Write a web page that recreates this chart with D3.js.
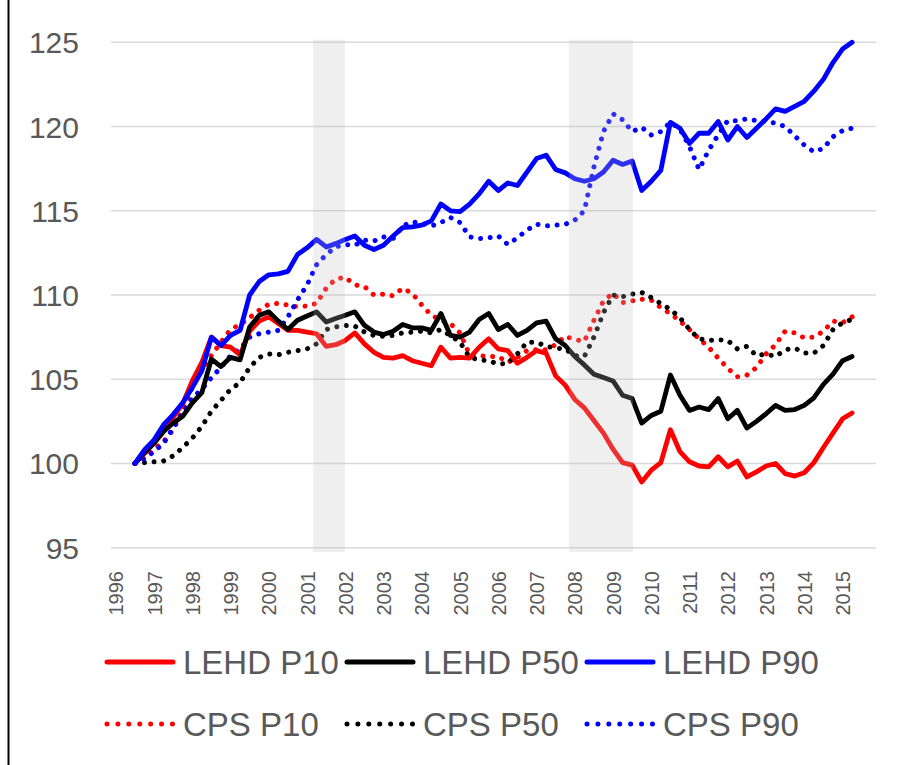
<!DOCTYPE html>
<html>
<head>
<meta charset="utf-8">
<script src="https://cdnjs.cloudflare.com/ajax/libs/d3/7.8.5/d3.min.js"></script>
<style>
  body { margin: 0; background: #fff; }
  #containerMap { width: 898px; height: 765px; }
  text { font-family: "Liberation Sans", Arial, sans-serif; fill: #595959; }
</style>
</head>
<body>
<div id="containerMap"></div>
<script>
// quarterly index values, 1996Q3 .. 2015Q2
var firstYear = 1996, firstQuarter = 3;

var lehdP10 = [100,100.6,101.25,102.0,102.75,103.55,104.9,106.0,107.5,107.0,106.9,106.45,107.85,108.45,
  108.7,108.3,107.9,107.9,107.8,107.7,106.95,107.05,107.3,107.75,107.1,106.6,106.3,106.25,106.4,106.1,
  105.95,105.8,106.9,106.25,106.3,106.25,106.9,107.4,106.8,106.7,105.95,106.3,106.7,106.55,105.2,104.65,
  103.8,103.3,102.55,101.8,100.85,100.05,99.9,98.9,99.6,100.05,102.0,100.7,100.1,99.85,99.8,100.4,
  99.8,100.15,99.2,99.5,99.85,100.0,99.4,99.25,99.45,100.05,100.95,101.8,102.65,103.0];

var lehdP50 = [100,100.65,101.2,101.9,102.4,102.8,103.6,104.2,106.2,105.75,106.3,106.15,108.1,108.8,
  109.0,108.45,107.95,108.5,108.75,109.0,108.4,108.6,108.8,109.0,108.2,107.8,107.65,107.85,108.25,108.05,
  108.05,107.9,108.9,107.6,107.5,107.8,108.55,108.9,107.95,108.25,107.6,107.9,108.35,108.45,107.4,107.0,
  106.35,105.85,105.3,105.1,104.9,104.05,103.85,102.4,102.85,103.1,105.25,104.05,103.15,103.35,103.2,103.85,
  102.65,103.15,102.1,102.5,102.95,103.45,103.15,103.2,103.45,103.9,104.7,105.3,106.1,106.35];

var lehdP90 = [100,100.8,101.4,102.3,102.9,103.6,104.5,105.5,107.5,107.0,107.6,107.9,110.0,110.8,
  111.2,111.25,111.4,112.4,112.8,113.3,112.85,113.05,113.3,113.5,112.95,112.7,112.95,113.5,114.0,114.05,
  114.15,114.4,115.4,115.0,114.95,115.4,116.0,116.75,116.2,116.65,116.5,117.3,118.1,118.3,117.45,117.25,
  116.9,116.75,116.9,117.3,118.0,117.75,117.95,116.2,116.75,117.4,120.25,119.9,119.0,119.6,119.6,120.3,
  119.2,120.0,119.35,119.9,120.45,121.05,120.9,121.2,121.5,122.1,122.8,123.8,124.6,125.0];

var cpsP10 = [100,100.35,100.85,101.3,102.0,103.2,104.5,105.55,106.4,107.2,107.95,108.25,108.65,109.1,
  109.45,109.5,109.4,109.3,109.35,109.5,110.4,110.95,111.05,110.6,110.5,110.0,110.05,109.95,110.4,110.1,
  109.4,108.8,108.5,108.3,107.75,106.45,106.4,106.35,106.35,106.0,106.3,106.7,106.75,106.75,107.05,107.55,
  107.35,107.25,108.5,109.65,110.1,109.55,109.65,109.75,109.7,109.25,108.9,108.45,107.95,107.4,106.9,106.25,
  105.65,105.15,105.25,105.7,106.5,107.05,107.85,107.75,107.45,107.5,107.85,108.45,108.35,108.7];

var cpsP50 = [100,100.05,100.1,100.15,100.45,100.95,101.5,102.2,103.1,103.75,104.4,104.8,105.7,106.3,
  106.5,106.45,106.6,106.7,106.8,107.1,107.95,108.1,108.2,108.15,107.8,107.6,107.55,107.6,107.75,107.8,
  107.85,107.75,107.95,107.6,107.2,106.3,106.15,106.1,105.9,105.95,106.5,107.2,107.2,106.95,106.85,106.8,
  106.4,106.35,107.5,108.95,110.0,109.9,110.05,110.15,109.85,109.5,109.15,108.65,107.95,107.4,107.3,107.35,
  107.3,106.8,106.95,106.4,106.5,106.35,106.75,106.85,106.55,106.55,107.0,107.95,108.35,108.55];

var cpsP90 = [100,100.3,100.7,101.2,102.1,103.0,103.9,104.4,105.1,105.7,106.4,106.8,107.5,107.7,
  107.8,107.9,108.7,109.7,110.6,111.8,112.4,112.85,113.0,112.95,113.25,113.2,113.45,113.35,114.1,114.35,
  114.25,114.1,114.3,114.6,114.3,113.45,113.35,113.4,113.5,113.0,113.4,113.85,114.2,114.1,114.15,114.2,
  114.45,115.0,117.6,119.7,120.75,120.4,119.7,119.95,119.5,119.7,120.25,119.85,118.8,117.45,118.6,119.5,
  120.35,120.35,120.45,120.35,120.3,120.2,120.0,119.45,118.9,118.5,118.7,119.4,119.75,119.9];

var yearTicks = [1996,1997,1998,1999,2000,2001,2002,2003,2004,2005,2006,2007,2008,2009,2010,2011,2012,2013,2014,2015];
var valueTicks = [95,100,105,110,115,120,125];
// NBER recessions, in fractional years
var recessions = [[2001.16, 2001.99], [2007.85, 2009.52]];

var seriesNames = ["LEHD P10","LEHD P50","LEHD P90","CPS P10","CPS P50","CPS P90"];
var seriesData  = [lehdP10, lehdP50, lehdP90, cpsP10, cpsP50, cpsP90];
var seriesColor = ["#ff0000","#000000","#0000ff","#ff0000","#000000","#0000ff"];
var seriesDotted = [false,false,false,true,true,true];

var width = 898, height = 765;

var x = d3.scaleLinear().domain([1995.875, 2015.875]).range([111, 876]);
var y = d3.scaleLinear().domain([95, 125]).range([547.7, 42.3]);

var svg = d3.select("#containerMap").append("svg")
  .attr("width", width)
  .attr("height", height);

// chart frame, left edge
svg.append("line")
  .attr("x1", 8.5).attr("x2", 8.5)
  .attr("y1", 0).attr("y2", height)
  .style("stroke", "#000").style("stroke-width", 2);

// gridlines
svg.append("g")
  .selectAll("line").data(valueTicks).enter().append("line")
  .attr("x1", x.range()[0]).attr("x2", x.range()[1])
  .attr("y1", function(d) { return y(d); })
  .attr("y2", function(d) { return y(d); })
  .style("stroke", "#d9d9d9").style("stroke-width", 1.5);

// y axis labels
var yAxis = d3.axisLeft(y).tickValues(valueTicks).tickSize(0).tickPadding(0);
var gy = svg.append("g").attr("transform", "translate(79,0)").call(yAxis);
gy.select(".domain").remove();
gy.selectAll("text")
  .style("font-size", "30px")
  .attr("fill", "#595959")
  .attr("dy", "0.35em");

// x axis labels, rotated
var xAxis = d3.axisBottom(x).tickValues(yearTicks).tickFormat(d3.format("d")).tickSize(0);
var gx = svg.append("g").attr("transform", "translate(0,571)").call(xAxis);
gx.select(".domain").remove();
gx.selectAll("text")
  .style("font-size", "20px")
  .attr("fill", "#595959")
  .attr("transform", "rotate(-90)")
  .attr("x", 0).attr("y", 0)
  .attr("dy", "0.35em")
  .style("text-anchor", "end");

// series
function timeOf(i) {
  var q = firstQuarter - 1 + i;
  return firstYear + Math.floor(q / 4) + (q % 4) / 4;
}

var line = d3.line()
  .x(function(d, i) { return x(timeOf(i)); })
  .y(function(d) { return y(d); });

var g = svg.append("g").attr("class", "lines");
var order = [3,4,5,0,1,2];
order.forEach(function(k) {
  g.append("path")
    .datum(seriesData[k])
    .attr("d", line)
    .style("fill", "none")
    .style("stroke", seriesColor[k])
    .style("stroke-width", seriesDotted[k] ? 5 : 4.8)
    .style("stroke-linejoin", "round")
    .style("stroke-linecap", "round")
    .style("stroke-dasharray", seriesDotted[k] ? "0.01,9.6" : null);
});

// recession shading sits over the lines, semi transparent
svg.append("g")
  .selectAll("rect").data(recessions).enter().append("rect")
  .attr("x", function(d) { return x(d[0]); })
  .attr("width", function(d) { return x(d[1]) - x(d[0]); })
  .attr("y", y(125.15))
  .attr("height", y(94.75) - y(125.15))
  .style("fill", "#bfbfbf")
  .style("fill-opacity", 0.25);

// legend
var legendX = [105, 345, 585];
var legendY = [662, 724];
var legend = svg.append("g").attr("class", "legend");
seriesNames.forEach(function(name, k) {
  var lx = legendX[k % 3], ly = legendY[Math.floor(k / 3)];
  legend.append("line")
    .attr("x1", lx + 2).attr("x2", lx + 68)
    .attr("y1", ly).attr("y2", ly)
    .style("stroke", seriesColor[k])
    .style("stroke-width", 5)
    .style("stroke-linecap", "round")
    .style("stroke-dasharray", seriesDotted[k] ? "0.01,10.9" : null);
  legend.append("text")
    .attr("x", lx + 78).attr("y", ly)
    .attr("dy", "0.36em")
    .style("font-size", "33px")
    .text(name);
});
</script>
</body>
</html>
